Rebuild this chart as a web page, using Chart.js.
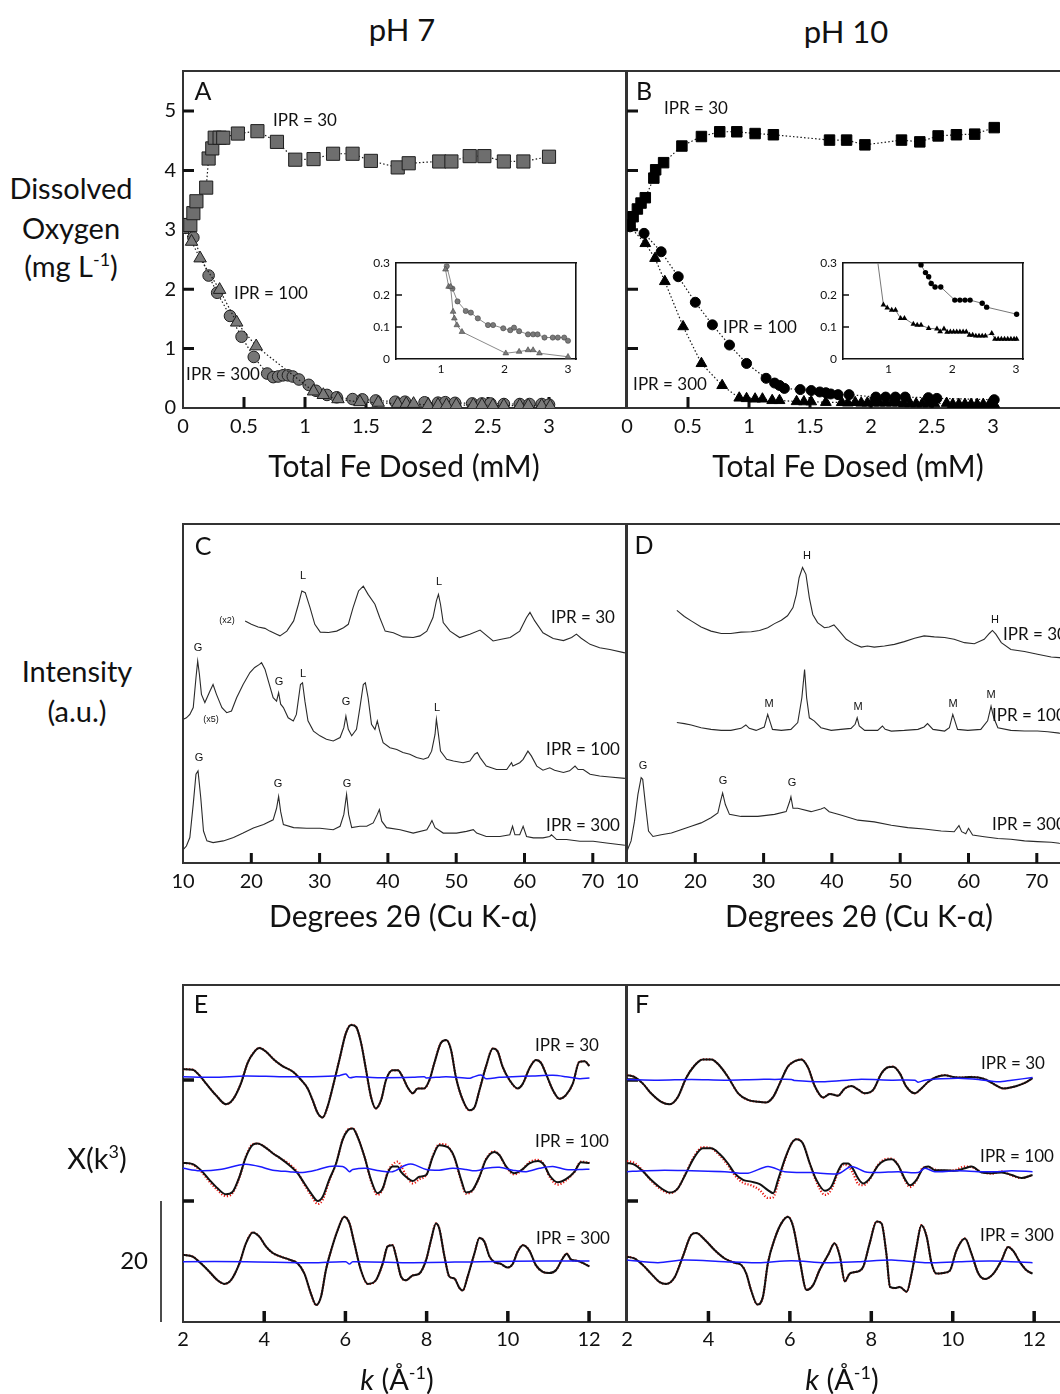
<!DOCTYPE html>
<html><head><meta charset="utf-8">
<script src="https://cdn.jsdelivr.net/npm/chart.js@4.4.1/dist/chart.umd.min.js"></script>
<style>
html,body{margin:0;padding:0;background:#fff;overflow:hidden;}
#root{position:relative;width:1060px;height:1394px;overflow:hidden;background:#fff;}
canvas{position:absolute;}
.t{position:absolute;white-space:nowrap;color:#111;font-family:Lato,'Open Sans',sans-serif;transform:translate(-50%,-50%);line-height:1;}
.t.l{transform:translate(0,-50%);}
.t.ar{font-family:'Liberation Sans',Arial,sans-serif;}
sup{font-size:0.62em;vertical-align:0.6em;line-height:0;}
</style></head><body><div id="root"></div>
<script>
// ---------------- Tick labels ----------------
const feTicks = [0, 0.5, 1, 1.5, 2, 2.5, 3];
const doTicks = [0, 1, 2, 3, 4, 5];
const insetXTicks = [1, 2, 3];
const insetYTicks = [0, 0.1, 0.2, 0.3];
const thetaTicks = [10, 20, 30, 40, 50, 60, 70];
const kTicks = [2, 4, 6, 8, 10, 12];

// ---------------- Panel A (pH 7): dissolved O2 vs total Fe dosed ----------------
const a30Fe = [0.03,0.06,0.085,0.11,0.19,0.21,0.24,0.26,0.30,0.33,0.45,0.61,0.77,0.92,1.07,1.23,1.39,1.54,1.76,1.85,2.10,2.20,2.35,2.47,2.63,2.79,3.00];
const a30DO = [3.08,3.08,3.28,3.48,3.71,4.20,4.37,4.55,4.55,4.55,4.62,4.66,4.48,4.18,4.19,4.28,4.28,4.16,4.05,4.12,4.15,4.15,4.24,4.24,4.15,4.15,4.23];
const a100Fe = [0.00,0.085,0.21,0.28,0.385,0.48,0.58,0.69,0.74,0.78,0.82,0.86,0.90,0.95,1.03,1.09,1.18,1.26,1.39,1.47,1.58,1.74,1.82,1.98,2.09,2.15,2.23,2.37,2.45,2.52,2.63,2.76,2.84,2.94,3.00];
const a100DO = [3.05,2.87,2.23,1.94,1.55,1.20,0.86,0.58,0.52,0.53,0.55,0.55,0.53,0.48,0.39,0.29,0.22,0.18,0.15,0.145,0.127,0.106,0.106,0.096,0.09,0.098,0.087,0.077,0.077,0.077,0.067,0.067,0.067,0.067,0.057];
const a300Fe = [0.00,0.07,0.14,0.30,0.44,0.60,1.07,1.15,1.27,1.45,1.60,1.76,1.83,1.89,2.01,2.09,2.16,2.24,2.38,2.45,2.54,2.63,2.76,2.83,2.94,3.01];
const a300DO = [3.00,2.80,2.52,1.99,1.44,1.04,0.28,0.22,0.15,0.10,0.09,0.07,0.07,0.07,0.05,0.05,0.05,0.05,0.05,0.05,0.04,0.04,0.04,0.04,0.04,0.03];
// inset A, IPR = 300 (as read in the zoomed inset)
const a300InsetFe = [0.60,1.07,1.12,1.15,1.19,1.21,1.25,1.33,2.02,2.23,2.37,2.45,2.55,3.00];
const a300InsetDO = [1.04,0.28,0.226,0.226,0.148,0.127,0.106,0.085,0.018,0.023,0.028,0.028,0.018,0.007];

// ---------------- Panel B (pH 10) ----------------
const b30Fe = [0.025,0.05,0.085,0.115,0.15,0.22,0.235,0.30,0.45,0.61,0.76,0.90,1.05,1.20,1.66,1.80,1.95,2.25,2.40,2.55,2.70,2.85,3.01];
const b30DO = [3.08,3.22,3.35,3.45,3.54,3.87,4.01,4.13,4.41,4.57,4.65,4.65,4.62,4.60,4.51,4.51,4.43,4.51,4.48,4.58,4.60,4.61,4.72];
const b100Fe = [0.025,0.14,0.28,0.42,0.56,0.70,0.84,0.98,1.14,1.21,1.25,1.29,1.42,1.51,1.58,1.63,1.67,1.73,1.82,2.04,2.12,2.20,2.28,2.47,2.54,3.01];
const b100DO = [3.05,2.94,2.63,2.21,1.78,1.40,1.06,0.75,0.50,0.42,0.38,0.33,0.31,0.294,0.27,0.257,0.236,0.225,0.225,0.184,0.184,0.184,0.184,0.174,0.162,0.14];
const b300Fe = [0.025,0.15,0.23,0.31,0.46,0.61,0.78,0.92,0.98,1.05,1.11,1.19,1.25,1.39,1.45,1.51,1.63,1.76,1.81,1.87,1.92,1.97,2.02,2.07,2.12,2.17,2.22,2.27,2.32,2.37,2.42,2.47,2.52,2.62,2.67,2.72,2.77,2.82,2.87,2.92,2.97,3.01];
const b300DO = [3.05,2.77,2.52,2.13,1.37,0.75,0.38,0.169,0.16,0.153,0.153,0.127,0.127,0.109,0.106,0.106,0.096,0.094,0.086,0.094,0.084,0.085,0.085,0.085,0.085,0.085,0.085,0.075,0.075,0.072,0.072,0.072,0.072,0.08,0.062,0.062,0.062,0.062,0.062,0.062,0.062,0.062];

// ---------------- Panel C (pH 7) XRD: [2theta, intensity a.u.] ----------------
const xrdC30 = [[19.1,71.2],[20.0,70.2],[21.0,69.4],[22.0,69.0],[22.7,68.2],[23.7,67.3],[24.2,66.8],[25.2,68.2],[26.2,71.2],[26.9,76.1],[27.4,80.0],[27.9,79.5],[28.6,75.1],[29.3,70.2],[30.1,67.9],[31.3,67.8],[32.5,68.2],[33.5,69.2],[34.2,70.2],[34.9,75.1],[35.7,80.0],[36.4,81.4],[37.1,79.0],[38.1,76.1],[38.8,72.2],[39.6,68.2],[40.8,67.7],[42.2,66.5],[43.7,66.3],[44.7,66.8],[45.7,68.2],[46.6,72.2],[47.1,77.1],[47.4,79.0],[47.7,76.1],[48.1,70.7],[49.1,68.2],[50.5,66.3],[52.0,67.3],[53.5,68.5],[54.2,67.3],[55.4,65.3],[56.6,65.8],[57.9,66.3],[59.3,68.2],[60.3,72.2],[60.8,73.7],[61.5,71.2],[62.7,67.7],[64.2,66.0],[65.7,65.4],[66.9,66.3],[67.6,67.3],[68.3,66.1],[69.6,64.3],[71.0,63.3],[72.5,62.8],[74.7,61.8]];
const xrdC100 = [[10.05,42.3],[10.5,42.7],[11.0,43.7],[11.5,45.7],[11.9,54.5],[12.15,59.4],[12.4,55.5],[12.7,49.6],[13.2,47.2],[13.95,50.6],[14.4,52.5],[14.9,49.6],[15.7,45.7],[16.4,44.2],[17.1,44.7],[17.85,48.6],[18.8,52.5],[19.8,56.0],[20.5,57.5],[21.2,58.4],[21.5,58.9],[22.0,57.0],[22.5,53.5],[23.2,48.6],[23.7,47.6],[24.0,50.1],[24.3,46.7],[24.7,45.7],[25.4,42.7],[26.15,41.8],[26.6,43.7],[27.2,52.5],[27.5,53.0],[27.85,47.6],[28.3,41.8],[29.1,38.8],[30.05,37.4],[31.0,36.4],[32.0,35.9],[33.0,36.9],[33.55,39.8],[33.85,43.2],[34.2,39.3],[34.7,37.4],[35.4,39.3],[35.9,45.7],[36.4,52.5],[36.7,53.0],[37.1,48.6],[37.6,40.8],[38.1,39.3],[38.45,41.8],[38.8,38.8],[39.3,35.4],[40.3,33.9],[41.3,33.4],[42.2,32.5],[43.2,32.0],[44.2,31.0],[45.2,30.5],[45.9,31.0],[46.4,32.9],[46.9,37.8],[47.1,42.3],[47.4,37.8],[47.7,32.9],[48.6,30.5],[49.6,30.0],[51.0,29.5],[52.0,30.0],[52.7,32.0],[53.1,32.5],[53.5,31.0],[54.4,28.5],[55.9,27.5],[57.4,27.5],[58.1,29.5],[58.3,28.5],[59.3,29.5],[59.8,30.5],[60.5,32.9],[61.0,31.5],[61.8,28.5],[62.7,27.3],[63.7,28.0],[64.4,27.3],[65.7,26.6],[66.6,27.1],[67.4,28.5],[67.85,27.5],[68.6,27.5],[69.6,26.1],[71.0,25.6],[72.5,25.3],[74.7,24.9]];
const xrdC300 = [[10.05,4.0],[10.5,5.0],[11.0,7.5],[11.5,17.3],[11.9,26.1],[12.2,27.1],[12.6,19.2],[13.0,9.4],[13.5,6.5],[14.4,6.0],[15.9,6.5],[17.4,7.5],[18.8,8.8],[20.3,10.3],[21.8,11.3],[23.2,12.7],[23.7,16.1],[24.0,19.6],[24.3,15.1],[24.7,11.3],[26.2,10.4],[28.1,10.2],[30.05,10.2],[32.0,9.8],[33.0,10.8],[33.55,14.3],[33.95,20.2],[34.25,14.3],[34.7,10.4],[35.9,10.8],[36.9,10.8],[37.85,11.8],[38.45,14.3],[38.75,15.7],[39.1,12.3],[39.8,10.4],[41.8,9.8],[43.7,8.8],[45.7,9.8],[46.15,11.3],[46.45,12.5],[46.9,10.4],[48.1,8.8],[50.05,8.8],[51.5,9.3],[52.5,9.8],[53.0,8.8],[54.4,7.8],[56.4,7.8],[57.85,8.3],[58.25,10.8],[58.6,8.3],[59.3,8.3],[59.8,10.8],[60.3,7.8],[61.3,7.4],[62.7,7.4],[63.7,7.8],[63.95,8.3],[64.7,6.9],[66.15,6.9],[68.1,6.4],[70.05,6.4],[72.0,5.9],[74.7,5.2]];

// ---------------- Panel D (pH 10) XRD ----------------
const xrdD30 = [[17.3,74.3],[18.4,72.5],[19.4,71.2],[20.85,69.4],[22.3,68.2],[23.8,67.5],[25.2,67.5],[26.7,67.9],[28.2,68.0],[29.4,68.4],[30.6,69.2],[31.6,70.4],[32.6,71.4],[33.5,72.7],[34.3,75.1],[34.8,79.0],[35.2,83.9],[35.7,86.9],[36.2,84.9],[36.7,78.0],[37.2,73.1],[37.9,70.7],[38.9,69.2],[39.6,69.4],[40.3,70.0],[41.1,68.2],[42.1,65.8],[43.3,64.3],[44.3,63.5],[45.2,63.8],[46.2,63.5],[47.7,63.8],[49.15,64.3],[50.6,65.1],[52.1,66.1],[53.5,66.8],[55.0,66.5],[56.5,66.3],[57.9,65.8],[59.4,64.8],[60.85,64.5],[62.3,65.8],[63.05,67.5],[63.5,68.4],[64.0,67.3],[64.8,64.8],[66.2,62.8],[68.2,62.2],[70.1,61.4],[72.1,60.6],[73.3,60.4],[74.8,60.0]];
const xrdD100 = [[17.3,41.3],[18.4,41.0],[19.4,40.6],[20.85,39.8],[22.3,39.3],[23.8,39.0],[25.2,39.0],[26.7,39.6],[27.4,40.6],[27.9,39.6],[28.9,39.0],[30.1,40.0],[30.6,43.7],[30.9,41.8],[31.3,39.3],[32.6,39.0],[34.0,39.3],[35.0,41.3],[35.6,48.6],[36.0,56.9],[36.3,48.6],[36.7,42.7],[37.4,41.8],[38.4,39.8],[39.9,39.0],[41.3,39.3],[42.8,39.6],[43.4,40.8],[43.7,42.7],[44.0,40.3],[44.8,39.0],[46.7,39.0],[47.4,40.3],[47.8,39.3],[48.7,38.8],[50.6,39.0],[52.6,39.3],[53.5,40.0],[54.0,41.0],[54.8,39.3],[56.5,38.8],[57.2,39.8],[57.7,43.7],[58.0,41.8],[58.4,39.3],[59.9,39.0],[61.8,39.3],[62.8,41.8],[63.3,46.1],[63.7,42.7],[64.3,39.8],[66.2,39.0],[68.2,38.8],[70.1,38.8],[71.6,38.6],[73.3,38.2],[74.8,38.0]];
const xrdD300 = [[10.0,3.5],[10.6,6.5],[11.1,12.3],[11.6,20.2],[12.07,25.1],[12.3,24.6],[12.7,17.2],[13.15,9.4],[13.8,7.8],[15.0,8.3],[16.5,8.8],[17.9,9.8],[19.4,10.8],[20.85,11.8],[22.3,13.3],[23.3,14.7],[23.7,18.2],[24.0,20.6],[24.4,17.2],[25.0,14.3],[26.7,13.7],[29.15,13.7],[31.6,14.3],[33.3,15.1],[33.8,18.0],[34.0,19.5],[34.3,16.1],[35.0,16.1],[36.95,15.1],[38.4,15.9],[38.9,16.3],[39.6,15.1],[41.3,14.1],[43.8,12.6],[46.2,12.1],[48.7,11.1],[51.1,10.4],[53.5,10.0],[56.0,9.4],[57.9,9.2],[58.6,11.0],[59.0,9.2],[59.6,8.6],[60.0,10.2],[60.6,8.2],[62.3,7.7],[64.3,7.2],[66.2,7.0],[68.2,6.5],[70.1,6.3],[72.1,6.1],[73.3,5.8],[74.8,5.5]];

// ---------------- Panel E (pH 7) EXAFS chi(k)*k^3 (offset stacked): [k, chi] ----------------
const chiE30 = [[2.0,41.8],[2.24,41.7],[2.40,40.8],[2.57,39.4],[2.81,37.5],[3.06,36.0],[3.22,36.7],[3.43,39.5],[3.59,42.8],[3.76,44.7],[3.88,45.3],[4.04,44.7],[4.25,43.3],[4.45,42.3],[4.70,41.4],[4.91,40.0],[5.07,38.6],[5.19,36.7],[5.32,34.5],[5.44,33.8],[5.56,35.6],[5.69,38.9],[5.85,43.3],[6.01,47.7],[6.14,49.1],[6.26,48.8],[6.38,46.3],[6.51,41.6],[6.63,37.2],[6.75,35.3],[6.88,36.7],[7.0,40.0],[7.16,41.6],[7.29,41.6],[7.41,40.5],[7.53,38.8],[7.66,37.8],[7.78,38.6],[7.94,38.6],[8.07,40.0],[8.19,42.8],[8.35,46.1],[8.48,46.6],[8.6,45.0],[8.72,40.5],[8.89,36.7],[9.05,35.0],[9.18,35.5],[9.30,38.3],[9.46,42.2],[9.63,45.2],[9.75,44.7],[9.87,42.2],[10.04,40.0],[10.24,38.6],[10.37,39.4],[10.53,41.9],[10.69,43.3],[10.82,42.8],[10.94,41.0],[11.11,38.3],[11.27,36.9],[11.43,37.5],[11.6,39.4],[11.76,43.0],[11.89,43.1],[12.01,42.3]];
const fitE30 = chiE30; // fit indistinguishable from data at this scale
const resE30 = [[2.0,40.55],[2.73,40.44],[3.55,40.66],[4.37,40.55],[5.19,40.55],[5.85,40.72],[6.01,40.99],[6.1,40.39],[6.26,40.55],[6.84,40.39],[7.66,40.44],[7.94,40.55],[7.99,40.33],[8.48,40.55],[9.05,40.28],[9.13,40.44],[9.34,40.83],[9.46,40.22],[9.79,40.44],[10.12,40.55],[10.61,40.66],[11.11,40.77],[11.43,40.55],[11.76,40.22],[12.01,40.33]];
const chiE100 = [[2.0,26.3],[2.24,26.1],[2.44,25.1],[2.65,23.5],[2.85,22.1],[3.06,21.1],[3.22,21.5],[3.39,24.0],[3.55,27.3],[3.72,29.3],[3.84,29.5],[4.0,29.0],[4.21,27.9],[4.41,27.0],[4.62,25.9],[4.82,24.6],[4.99,22.9],[5.15,21.3],[5.32,20.0],[5.44,20.7],[5.60,23.5],[5.77,26.2],[5.93,30.1],[6.06,31.7],[6.18,32.0],[6.30,30.6],[6.47,27.3],[6.63,23.5],[6.79,21.3],[6.92,22.1],[7.04,24.6],[7.16,25.7],[7.29,25.7],[7.37,24.8],[7.49,24.0],[7.66,23.3],[7.82,24.0],[7.99,24.3],[8.15,27.3],[8.31,29.2],[8.44,29.1],[8.56,28.7],[8.68,27.3],[8.85,23.5],[8.97,21.4],[9.13,21.8],[9.30,24.0],[9.46,26.8],[9.67,28.1],[9.79,27.6],[9.96,25.7],[10.16,24.6],[10.33,25.1],[10.53,26.2],[10.74,26.6],[10.90,25.9],[11.02,24.3],[11.23,23.1],[11.43,23.6],[11.64,24.8],[11.80,26.4],[12.01,26.3]];
const fitE100 = [[2.0,26.3],[2.24,26.0],[2.44,24.9],[2.65,23.2],[2.85,21.8],[3.06,20.8],[3.22,21.3],[3.39,23.9],[3.55,27.4],[3.72,29.4],[3.84,29.5],[4.0,29.0],[4.21,27.9],[4.41,27.0],[4.62,26.1],[4.82,24.8],[4.99,22.7],[5.15,21.0],[5.32,19.5],[5.44,20.2],[5.60,23.3],[5.77,26.2],[5.93,30.1],[6.06,31.8],[6.18,32.0],[6.30,30.6],[6.47,27.3],[6.63,23.3],[6.79,21.0],[6.92,22.0],[7.04,24.8],[7.16,26.0],[7.29,26.5],[7.37,25.8],[7.49,24.3],[7.66,22.9],[7.82,23.6],[7.99,24.3],[8.15,27.4],[8.31,29.4],[8.44,29.4],[8.56,28.7],[8.68,27.2],[8.85,23.3],[8.97,21.2],[9.13,21.7],[9.30,24.0],[9.46,26.9],[9.67,28.2],[9.79,27.6],[9.96,25.6],[10.16,24.4],[10.33,25.0],[10.53,26.4],[10.74,26.8],[10.90,25.9],[11.02,24.1],[11.23,22.7],[11.43,23.4],[11.64,24.8],[11.80,26.5],[12.01,26.3]];
const resE100 = [[2.0,25.4],[2.41,25.0],[2.9,25.2],[3.39,25.95],[3.55,26.06],[3.88,25.7],[4.21,25.1],[4.62,24.85],[4.95,24.7],[5.28,25.1],[5.6,25.7],[5.93,25.7],[6.01,25.4],[6.1,24.85],[6.18,25.2],[6.51,25.4],[6.84,25.0],[7.16,24.85],[7.49,25.95],[7.66,26.06],[7.99,25.2],[8.31,25.1],[8.64,25.4],[8.97,25.2],[9.13,25.0],[9.3,25.1],[9.46,25.4],[9.79,25.56],[10.12,25.1],[10.45,24.85],[10.78,25.4],[11.11,25.7],[11.43,25.2],[11.76,25.2],[12.01,25.25]];
const chiE300 = [[2.0,11.1],[2.24,10.8],[2.44,9.7],[2.65,8.3],[2.85,6.9],[3.02,6.3],[3.18,6.9],[3.39,9.7],[3.55,13.0],[3.72,14.8],[3.88,14.1],[4.04,12.5],[4.21,11.4],[4.41,10.8],[4.62,10.3],[4.82,9.7],[4.99,8.0],[5.15,4.7],[5.28,2.8],[5.40,4.2],[5.52,8.6],[5.65,11.9],[5.81,15.2],[5.97,17.4],[6.10,16.3],[6.22,13.0],[6.38,8.6],[6.55,6.3],[6.75,6.9],[6.92,9.7],[7.04,12.5],[7.16,12.7],[7.25,10.8],[7.37,7.5],[7.49,6.9],[7.66,7.7],[7.82,8.0],[7.99,10.3],[8.11,13.6],[8.23,16.3],[8.31,15.5],[8.44,10.8],[8.56,7.5],[8.68,7.2],[8.81,5.6],[8.89,5.2],[9.01,7.5],[9.18,11.4],[9.30,13.9],[9.42,13.3],[9.55,10.8],[9.67,9.9],[9.83,9.6],[9.99,9.0],[10.12,9.6],[10.24,11.6],[10.37,12.7],[10.53,11.8],[10.69,9.4],[10.86,8.3],[11.02,8.1],[11.19,8.6],[11.35,10.5],[11.45,11.3],[11.56,10.3],[11.72,10.1],[11.89,9.6],[12.01,9.2]];
const fitE300 = chiE300;
const resE300 = [[2.0,9.97],[3.55,9.97],[5.19,9.8],[6.01,9.97],[6.1,9.58],[6.18,9.97],[7.66,9.8],[9.3,9.97],[10.94,10.08],[12.01,10.08]];

// ---------------- Panel F (pH 10) EXAFS ----------------
const chiF30 = [[2.0,40.8],[2.18,40.5],[2.39,39.4],[2.59,37.8],[2.84,36.4],[3.05,36.0],[3.25,37.2],[3.45,40.3],[3.66,42.4],[3.86,43.4],[4.07,43.4],[4.27,42.4],[4.48,40.5],[4.73,37.8],[4.97,36.7],[5.22,36.4],[5.42,36.3],[5.59,37.2],[5.75,39.4],[5.95,42.2],[6.12,43.1],[6.28,43.4],[6.45,42.0],[6.61,39.0],[6.82,37.1],[6.98,37.7],[7.18,37.4],[7.35,38.6],[7.51,39.0],[7.68,38.4],[7.84,37.8],[8.05,38.4],[8.25,41.1],[8.41,42.1],[8.54,42.2],[8.7,41.1],[8.86,38.9],[9.07,37.8],[9.23,38.6],[9.4,39.7],[9.6,40.5],[9.81,40.8],[10.01,40.5],[10.22,40.4],[10.42,40.5],[10.63,40.4],[10.83,40.0],[11.04,39.2],[11.24,38.6],[11.45,38.8],[11.65,39.2],[11.82,39.7],[11.96,40.3]];
const fitF30 = chiF30;
const resF30 = [[2.0,40.1],[2.76,39.97],[3.58,40.1],[4.4,39.97],[5.22,40.1],[5.63,40.1],[6.04,40.1],[6.12,39.9],[6.86,39.7],[7.68,40.1],[8.5,39.97],[9.07,39.97],[9.15,39.64],[9.32,39.97],[9.73,40.2],[10.14,40.3],[10.63,40.1],[11.12,39.7],[11.45,39.97],[11.96,40.4]];
const chiF100 = [[2.0,26.3],[2.18,26.0],[2.39,24.9],[2.59,23.5],[2.84,22.1],[3.05,21.4],[3.25,22.1],[3.45,24.6],[3.66,27.3],[3.86,28.7],[4.07,28.7],[4.27,27.8],[4.48,26.2],[4.64,24.6],[4.85,23.5],[5.05,23.2],[5.26,22.8],[5.46,21.8],[5.59,21.3],[5.71,23.5],[5.87,26.8],[6.04,29.5],[6.16,30.2],[6.32,29.5],[6.49,26.2],[6.65,23.5],[6.86,21.7],[7.02,22.4],[7.18,24.9],[7.31,26.2],[7.43,26.2],[7.55,25.3],[7.68,23.7],[7.8,22.9],[7.96,23.7],[8.17,25.9],[8.33,26.7],[8.5,26.9],[8.66,25.9],[8.82,23.7],[8.95,22.6],[9.11,23.5],[9.27,25.4],[9.4,25.7],[9.56,25.1],[9.81,25.1],[10.05,25.0],[10.3,25.4],[10.46,25.7],[10.71,24.7],[10.96,24.6],[11.2,24.7],[11.45,24.3],[11.69,23.8],[11.96,24.3]];
const fitF100 = [[2.0,26.6],[2.18,26.3],[2.39,25.0],[2.59,23.4],[2.84,21.9],[3.05,21.3],[3.25,22.1],[3.45,24.7],[3.66,27.5],[3.86,28.9],[4.07,28.7],[4.27,27.6],[4.48,25.9],[4.64,24.3],[4.85,23.0],[5.05,22.6],[5.26,21.8],[5.46,20.5],[5.59,20.6],[5.71,23.0],[5.87,26.6],[6.04,29.5],[6.16,30.2],[6.32,29.5],[6.49,26.2],[6.65,23.2],[6.86,21.0],[7.02,21.9],[7.18,24.6],[7.31,26.0],[7.43,25.8],[7.55,24.6],[7.68,22.8],[7.8,22.6],[7.96,23.6],[8.17,26.0],[8.33,26.9],[8.5,27.0],[8.66,25.9],[8.82,23.5],[8.95,22.3],[9.11,23.4],[9.27,25.5],[9.4,25.6],[9.56,25.2],[9.81,25.0],[10.05,25.1],[10.3,25.7],[10.46,25.6],[10.71,24.8],[10.96,24.5],[11.2,24.9],[11.45,24.2],[11.69,23.8],[11.96,24.3]];
const resF100 = [[2.0,24.85],[2.43,25.0],[2.92,25.1],[3.58,25.0],[4.4,24.85],[4.97,24.6],[5.46,25.7],[5.87,24.85],[6.53,24.7],[7.18,24.5],[7.51,25.7],[7.84,24.85],[8.17,24.7],[8.66,24.85],[9.15,24.7],[9.32,25.4],[9.56,24.85],[10.14,25.0],[10.63,24.85],[11.12,24.85],[11.45,25.0],[11.96,24.85]];
const chiF300 = [[2.0,10.8],[2.18,10.5],[2.39,9.4],[2.59,8.0],[2.8,6.6],[2.96,6.3],[3.17,7.4],[3.37,10.8],[3.58,14.4],[3.70,14.7],[3.91,13.6],[4.15,11.9],[4.4,10.5],[4.64,9.8],[4.81,9.4],[4.93,8.0],[5.05,5.2],[5.2,2.9],[5.34,4.2],[5.46,9.7],[5.63,13.8],[5.79,16.3],[5.95,17.4],[6.08,15.8],[6.24,10.3],[6.41,5.3],[6.57,6.1],[6.73,8.6],[6.94,11.1],[7.1,13.0],[7.23,10.8],[7.35,6.7],[7.47,8.0],[7.64,8.3],[7.8,9.1],[7.96,13.0],[8.13,16.6],[8.25,16.3],[8.37,11.3],[8.46,5.8],[8.58,5.6],[8.7,5.8],[8.87,5.0],[8.99,8.0],[9.11,12.4],[9.23,16.0],[9.36,14.1],[9.48,9.7],[9.6,8.0],[9.77,8.1],[9.93,8.5],[10.09,11.8],[10.3,13.8],[10.46,11.3],[10.63,8.0],[10.79,7.1],[11.0,8.0],[11.2,10.2],[11.36,12.4],[11.49,11.7],[11.65,9.9],[11.82,8.5],[11.96,8.0]];
const fitF300 = chiF300;
const resF300 = [[2.0,10.25],[2.76,9.8],[3.41,10.25],[4.4,9.97],[5.22,9.8],[6.04,10.14],[6.86,9.8],[7.68,9.97],[8.5,10.25],[9.32,9.8],[10.14,9.97],[10.96,10.08],[11.96,9.8]];

// ---------------- Texts (html, x, y, size, class) ----------------
const texts = [
 ['pH 7',402,29,31],['pH 10',846,31,31],
 ['Dissolved',71,187,29],['Oxygen',71,227,29],['(mg L<sup>-1</sup>)',71,265,29],
 ['Intensity',77,670,29],['(a.u.)',77,710,29],
 ['X(k<sup>3</sup>)',97,1157,29],
 ['Total Fe Dosed (mM)',404,465,30],['Total Fe Dosed (mM)',848,465,30],
 ['Degrees 2θ (Cu K-α)',403,915,30],['Degrees 2θ (Cu K-α)',859,915,30],
 ['<i>k</i> (Å<sup>-1</sup>)',397,1378,29],['<i>k</i> (Å<sup>-1</sup>)',842,1378,29],
 ['A',203,90,25],['B',644,90,25],['C',203,545,25],['D',644,544,25],['E',201,1003,25],['F',642,1003,25],
 ['IPR = 30',305,119,17],['IPR = 100',271,292,17],['IPR = 300',223,373,17],
 ['IPR = 30',696,107,17],['IPR = 100',760,326,17],['IPR = 300',670,383,17],
 ['L',303,575,11,'ar'],['L',439,581,11,'ar'],['(x2)',227,620,9,'ar'],['IPR = 30',583,616,17],
 ['G',198,647,11,'ar'],['G',279,681,11,'ar'],['L',303,673,11,'ar'],['G',346,701,11,'ar'],['L',437,707,11,'ar'],['(x5)',211,719,9,'ar'],['IPR = 100',583,748,17],
 ['G',199,757,11,'ar'],['G',278,783,11,'ar'],['G',347,783,11,'ar'],['IPR = 300',583,824,17],
 ['H',807,555,11,'ar'],['H',995,619,11,'ar'],['IPR = 30',1003,633,17,'l'],
 ['M',769,703,11,'ar'],['M',858,706,11,'ar'],['M',953,703,11,'ar'],['M',991,694,11,'ar'],['IPR = 100',992,714,17,'l'],
 ['G',643,765,11,'ar'],['G',723,780,11,'ar'],['G',792,782,11,'ar'],['IPR = 300',992,823,17,'l'],
 ['IPR = 30',567,1044,17],['IPR = 100',572,1140,17],['IPR = 300',573,1237,17],
 ['IPR = 30',1013,1062,17],['IPR = 100',1017,1155,17],['IPR = 300',1017,1234,17]
];

// ================= rendering =================
const root = document.getElementById('root');
const FONT = "Lato, 'Open Sans', sans-serif";
Chart.defaults.font.family = FONT;
Chart.defaults.color = '#111';

const pts = (xs, ys) => xs.map((x, i) => ({x, y: ys[i]}));
const pairs = a => a.map(p => ({x: p[0], y: p[1]}));

const innerTicks = {
  id: 'innerTicks',
  beforeDatasetsDraw(chart, args, o) {
    if (!o || (!o.x && !o.y)) return;
    const {ctx, chartArea: a, scales} = chart;
    ctx.save(); ctx.strokeStyle = o.color || '#111'; ctx.lineWidth = o.width || 3;
    ctx.beginPath();
    (o.x || []).forEach(v => { const p = scales.x.getPixelForValue(v); ctx.moveTo(p, a.bottom); ctx.lineTo(p, a.bottom - o.len); });
    (o.y || []).forEach(v => { const p = scales.y.getPixelForValue(v); ctx.moveTo(a.left, p); ctx.lineTo(a.left + o.len, p); });
    ctx.stroke(); ctx.restore();
  }
};
Chart.register(innerTicks);

const whiteArea = {id: 'whiteArea', beforeDraw(chart) {
  const a = chart.chartArea, ctx = chart.ctx;
  ctx.save(); ctx.fillStyle = '#fff'; ctx.fillRect(a.left, a.top, a.right - a.left, a.bottom - a.top); ctx.restore();
}};

const scaleBar = {id: 'scaleBar', afterDraw(chart, args, o) {
  const {ctx, chartArea: a, scales: {y}} = chart;
  const y0 = y.getPixelForValue(o.from), y1 = y.getPixelForValue(o.to);
  const x = a.left - o.offset;
  ctx.save(); ctx.strokeStyle = '#111'; ctx.lineWidth = 1.5;
  ctx.beginPath(); ctx.moveTo(x, y0); ctx.lineTo(x, y1); ctx.stroke();
  ctx.fillStyle = '#111'; ctx.font = o.size + 'px ' + FONT; ctx.textAlign = 'right'; ctx.textBaseline = 'middle';
  ctx.fillText(String(o.to - o.from), x - o.gap, (y0 + y1) / 2);
  ctx.restore();
}};

function axis(pos, range, labels, o) {
  const horiz = pos === 'top' || pos === 'bottom';
  const main = pos === 'bottom' || pos === 'left';
  const s = {
    type: 'linear', position: pos, min: range[0], max: range[1], display: true,
    grid: {display: false, drawTicks: false},
    border: {display: true, color: o.bc, width: o.bw},
    afterFit: sc => { if (horiz) sc.height = main ? o.xH : 0; else sc.width = main ? o.yW : 0; },
    ticks: {display: false}
  };
  if (main && labels) {
    s.afterBuildTicks = sc => { sc.ticks = labels.map(v => ({value: v})); };
    s.ticks = {display: true, padding: horiz ? o.xpad : o.ypad, autoSkip: false, maxRotation: 0,
      color: '#111', font: {family: FONT, size: o.fs}, callback: v => String(v)};
  }
  return s;
}

function panel(box, cfg) {
  const o = Object.assign({yW: 40, xH: 40, padT: 20, padR: 20, bw: 2, bc: '#333', fs: 20, xpad: 7, ypad: 7}, cfg);
  const c = document.createElement('canvas');
  const w = o.yW + (box.r - box.l) + o.padR, h = o.padT + (box.b - box.t) + o.xH;
  c.width = w; c.height = h;
  Object.assign(c.style, {left: (box.l - o.yW) + 'px', top: (box.t - o.padT) + 'px', width: w + 'px', height: h + 'px'});
  root.appendChild(c);
  const plugOpts = Object.assign({legend: {display: false}, tooltip: {enabled: false}, innerTicks: o.ticks || false}, o.plugOpts || {});
  return new Chart(c, {
    type: 'line',
    data: {datasets: o.datasets},
    options: {
      responsive: false, animation: false, devicePixelRatio: 1, events: [],
      layout: {padding: {top: o.padT, right: o.padR, left: 0, bottom: 0}},
      scales: {
        x: axis('bottom', o.xr, o.xl, o), y: axis('left', o.yr, o.yl, o),
        x2: axis('top', o.xr, null, o), y2: axis('right', o.yr, null, o)
      },
      plugins: plugOpts
    },
    plugins: o.plugins || []
  });
}

const dotted = {borderColor: '#1a1a1a', borderWidth: 1.2, borderDash: [1.5, 2.2], fill: false, tension: 0, showLine: true};
const gLine = c => ({borderColor: c, borderWidth: 1, fill: false, tension: 0, showLine: true});

// ---- Panel A ----
panel({l: 183, t: 71, r: 626, b: 408}, {
  xr: [0, 3.631], yr: [0, 5.673], xl: feTicks, yl: doTicks,
  ticks: {x: [0.5, 1, 1.5, 2, 2.5, 3], y: [1, 2, 3, 4, 5], len: 11, width: 3},
  datasets: [
    Object.assign({}, dotted, {data: pts(a30Fe, a30DO), pointStyle: 'rect', pointRadius: 9.3, pointBackgroundColor: '#6e6e6e', pointBorderColor: '#1e1e1e', pointBorderWidth: 1}),
    Object.assign({}, dotted, {data: pts(a300Fe, a300DO), pointStyle: 'triangle', pointRadius: 7.2, pointBackgroundColor: '#7a7a7a', pointBorderColor: '#1e1e1e', pointBorderWidth: 1}),
    Object.assign({}, dotted, {data: pts(a100Fe, a100DO), pointStyle: 'circle', pointRadius: 5.8, pointBackgroundColor: '#767676', pointBorderColor: '#1e1e1e', pointBorderWidth: 1})
  ]
});
// ---- Panel B ----
panel({l: 627, t: 71, r: 1070, b: 408}, {
  xr: [0, 3.631], yr: [0, 5.673], xl: feTicks, yl: null,
  ticks: {x: [0.5, 1, 1.5, 2, 2.5, 3], y: [1, 2, 3, 4, 5], len: 11, width: 3},
  datasets: [
    Object.assign({}, dotted, {data: pts(b30Fe, b30DO), pointStyle: 'rect', pointRadius: 7.4, pointBackgroundColor: '#000', pointBorderColor: '#000', pointBorderWidth: 1}),
    Object.assign({}, dotted, {data: pts(b300Fe, b300DO), pointStyle: 'triangle', pointRadius: 6.2, pointBackgroundColor: '#000', pointBorderColor: '#000', pointBorderWidth: 1}),
    Object.assign({}, dotted, {data: pts(b100Fe, b100DO), pointStyle: 'circle', pointRadius: 5, pointBackgroundColor: '#000', pointBorderColor: '#000', pointBorderWidth: 1})
  ]
});
// ---- Insets ----
const insetCfg = {yW: 26, xH: 22, padT: 16, padR: 14, bw: 1.6, bc: '#111', fs: 12, xpad: 3, ypad: 6,
  yr: [0, 0.3], xl: insetXTicks, yl: insetYTicks, plugins: [whiteArea],
  ticks: {y: [0.1, 0.2], len: 6, width: 1.3}};
panel({l: 396, t: 263, r: 576, b: 359}, Object.assign({}, insetCfg, {
  xr: [0.291, 3.126],
  datasets: [
    Object.assign({}, gLine('#8a8a8a'), {data: pts(a300InsetFe, a300InsetDO), pointStyle: 'triangle', pointRadius: 3.3, pointBackgroundColor: '#7a7a7a', pointBorderColor: '#444', pointBorderWidth: 0.6}),
    Object.assign({}, gLine('#8a8a8a'), {data: pts(a100Fe, a100DO), pointStyle: 'circle', pointRadius: 2.6, pointBackgroundColor: '#7a7a7a', pointBorderColor: '#444', pointBorderWidth: 0.6})
  ]
}));
panel({l: 843, t: 263, r: 1023, b: 359}, Object.assign({}, insetCfg, {
  xr: [0.286, 3.11],
  datasets: [
    Object.assign({}, gLine('#777'), {data: pts(b300Fe, b300DO), pointStyle: 'triangle', pointRadius: 3.3, pointBackgroundColor: '#000', pointBorderColor: '#000', pointBorderWidth: 0}),
    Object.assign({}, gLine('#777'), {data: pts(b100Fe, b100DO), pointStyle: 'circle', pointRadius: 2.7, pointBackgroundColor: '#000', pointBorderColor: '#000', pointBorderWidth: 0})
  ]
}));

// ---- Panels C, D ----
const xrdLine = d => ({data: pairs(d), borderColor: '#2a2a2a', borderWidth: 1.1, pointRadius: 0, fill: false, tension: 0});
panel({l: 183, t: 524, r: 626, b: 863}, {
  yW: 20, xr: [10, 74.86], yr: [0, 99.7], xl: thetaTicks,
  ticks: {x: [20, 30, 40, 50, 60, 70], len: 10, width: 3},
  datasets: [xrdLine(xrdC30), xrdLine(xrdC100), xrdLine(xrdC300)]
});
panel({l: 627, t: 524, r: 1070, b: 863}, {
  yW: 20, xr: [10, 74.86], yr: [0, 99.7], xl: thetaTicks,
  ticks: {x: [20, 30, 40, 50, 60, 70], len: 10, width: 3},
  datasets: [xrdLine(xrdD30), xrdLine(xrdD100), xrdLine(xrdD300)]
});

// ---- Panels E, F ----
const blue = d => ({data: pairs(d), borderColor: '#1a1aff', borderWidth: 1.5, pointRadius: 0, fill: false, tension: 0.3});
const blk = d => ({data: pairs(d), borderColor: '#111', borderWidth: 2, pointRadius: 0, fill: false, cubicInterpolationMode: 'monotone'});
const red = d => ({data: pairs(d), borderColor: '#e8120c', borderWidth: 2.2, borderDash: [1.2, 1.8], pointRadius: 0, fill: false, cubicInterpolationMode: 'monotone'});
const exCfg = {xr: [2, 12.91], yr: [0, 55.7], xl: kTicks, xpad: 6,
  ticks: {x: [4, 6, 8, 10, 12], y: [20, 40], len: 11, width: 3.5}};
panel({l: 183, t: 985, r: 626, b: 1322}, Object.assign({}, exCfg, {
  yW: 75, plugins: [scaleBar], plugOpts: {scaleBar: {from: 0, to: 20, offset: 22, gap: 13, size: 24}},
  datasets: [blue(resE30), blue(resE100), blue(resE300), blk(chiE30), blk(chiE100), blk(chiE300), red(fitE30), red(fitE100), red(fitE300)]
}));
panel({l: 627, t: 985, r: 1070, b: 1322}, Object.assign({}, exCfg, {
  yW: 20, xr: [2, 12.88],
  datasets: [blue(resF30), blue(resF100), blue(resF300), blk(chiF30), blk(chiF100), blk(chiF300), red(fitF30), red(fitF100), red(fitF300)]
}));

// ---- Text ----
texts.forEach(([h, x, y, s, cls]) => {
  const d = document.createElement('div');
  d.className = 't' + (cls ? ' ' + cls : '');
  d.innerHTML = h; d.style.left = x + 'px'; d.style.top = y + 'px'; d.style.fontSize = s + 'px';
  root.appendChild(d);
});
</script></body></html>
